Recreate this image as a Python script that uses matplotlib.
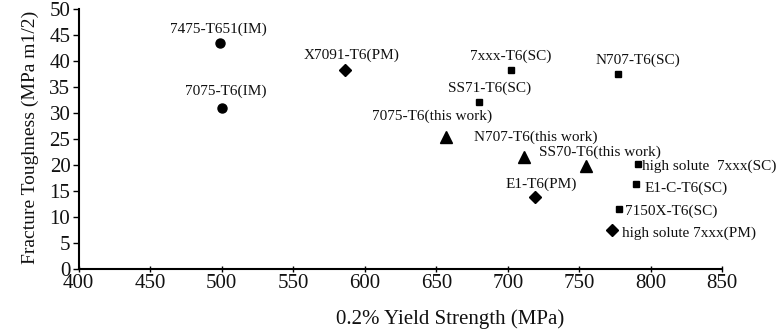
import matplotlib
matplotlib.use('Agg')
import matplotlib.pyplot as plt

plt.rcParams['font.family'] = 'Liberation Serif'

# ingot metallurgy (circles)
im_names = ['7475-T651(IM)', '7075-T6(IM)']
im_x = [499, 500]
im_y = [43.5, 31.0]

# powder metallurgy (diamonds)
pm_names = ['X7091-T6(PM)', 'E1-T6(PM)', 'high solute 7xxx(PM)']
pm_x = [586, 719, 773]
pm_y = [38.3, 13.8, 7.4]

# spray cast (squares)
sc_names = ['7xxx-T6(SC)', 'N707-T6(SC)', 'SS71-T6(SC)', 'high solute  7xxx(SC)',
            'E1-C-T6(SC)', '7150X-T6(SC)']
sc_x = [702, 777, 680, 791, 790, 778]
sc_y = [38.2, 37.4, 32.1, 20.1, 16.3, 11.4]

# this work (triangles)
tw_names = ['7075-T6(this work)', 'N707-T6(this work)', 'SS70-T6(this work)']
tw_x = [657, 711, 755]
tw_y = [25.4, 21.5, 19.8]

# label placement: offset in pixels, horizontal alignment
label_pos = {
    '7475-T651(IM)': (-2, 13, 'center'),
    '7075-T6(IM)': (4, 16, 'center'),
    'X7091-T6(PM)': (7, 14, 'center'),
    'E1-T6(PM)': (6, 13, 'center'),
    'high solute 7xxx(PM)': (10, -3, 'left'),
    '7xxx-T6(SC)': (0, 14, 'center'),
    'N707-T6(SC)': (20, 14, 'center'),
    'SS71-T6(SC)': (10, 14, 'center'),
    'high solute  7xxx(SC)': (4, -2, 'left'),
    'E1-C-T6(SC)': (8, -4, 'left'),
    '7150X-T6(SC)': (6, -1.5, 'left'),
    '7075-T6(this work)': (-14, 20, 'center'),
    'N707-T6(this work)': (12, 20, 'center'),
    'SS70-T6(this work)': (14, 14, 'center'),
}

fig = plt.figure(figsize=(7.84, 3.31), dpi=100)
ax = fig.add_axes([0.1004, 0.188, 0.8209, 0.7855])

ax.plot(im_x, im_y, 'o', color='black', markersize=6.5, linestyle='none')
ax.plot(pm_x, pm_y, 'D', color='black', markersize=6, linestyle='none')
ax.plot(sc_x, sc_y, 's', color='black', markersize=4.3, linestyle='none')
ax.plot(tw_x, tw_y, '^', color='black', markersize=9, linestyle='none')

for names, xs, ys in [(im_names, im_x, im_y), (pm_names, pm_x, pm_y),
                      (sc_names, sc_x, sc_y), (tw_names, tw_x, tw_y)]:
    for n, x, y in zip(names, xs, ys):
        dx, dy, ha = label_pos[n]
        ax.annotate(n, (x, y), xytext=(dx, dy), textcoords='offset pixels',
                    ha=ha, va='center', fontsize=11, color='#111111')

ax.set_xlim(400, 850)
ax.set_ylim(0, 50)
ax.set_xticks(range(400, 851, 50))
ax.set_yticks(range(0, 51, 5))
ax.spines['top'].set_visible(False)
ax.spines['right'].set_visible(False)
ax.spines['left'].set_linewidth(1.5)
ax.spines['bottom'].set_linewidth(1.5)
ax.tick_params(axis='x', direction='inout', length=5, width=1, labelsize=15, pad=1,
               labelcolor='#111111')
ax.tick_params(axis='y', direction='out', length=4, width=1, labelsize=15, pad=2,
               labelcolor='#111111')

ax.set_xlabel('0.2% Yield Strength (MPa)', fontsize=15, color='#111111')
ax.xaxis.set_label_coords(0.577, -0.155)
ax.set_ylabel('Fracture Toughness (MPa m1/2)', fontsize=14, color='#111111')
ax.yaxis.set_label_coords(-0.061, 0.507)

plt.savefig('out.png', dpi=100)
